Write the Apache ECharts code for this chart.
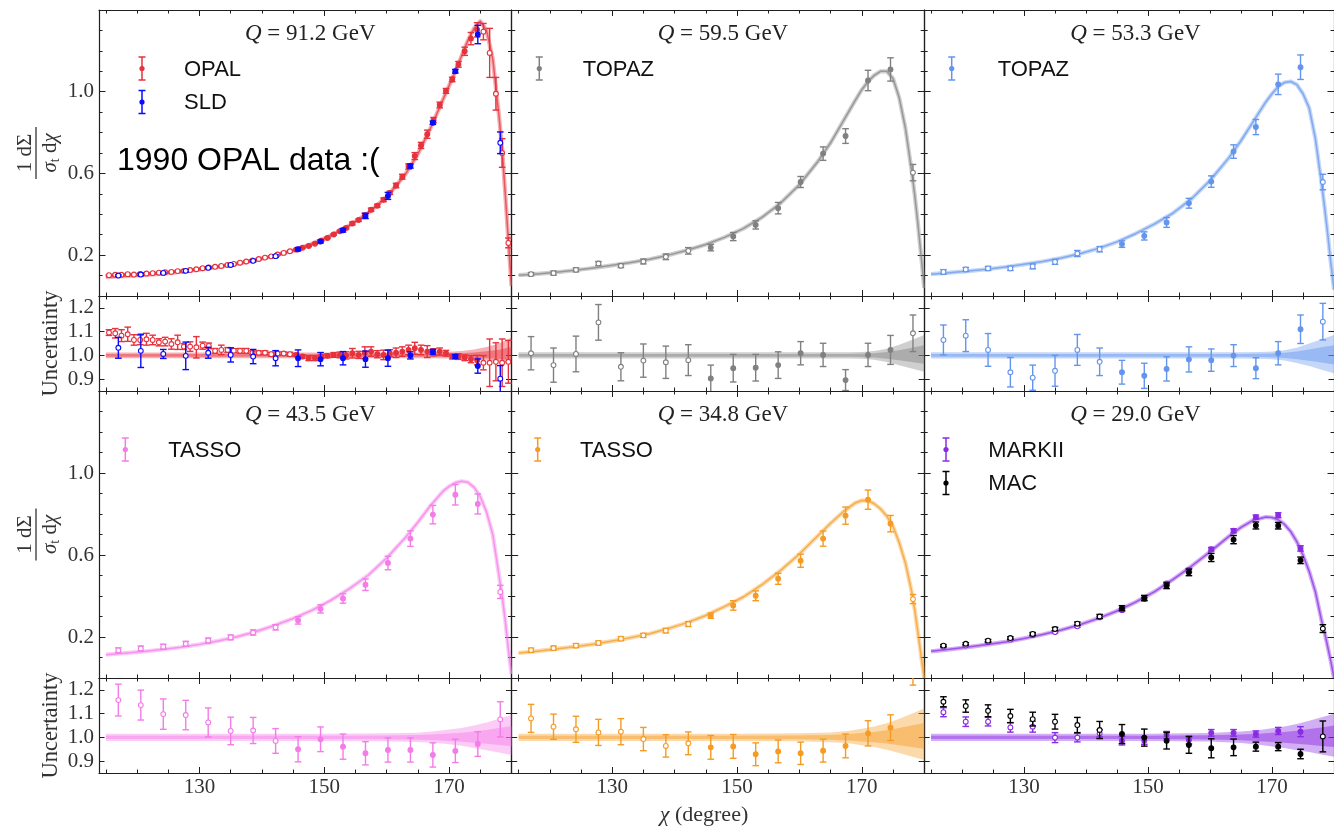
<!DOCTYPE html>
<html><head><meta charset="utf-8">
<script src="https://cdn.jsdelivr.net/npm/echarts@6/dist/echarts.min.js"></script>
<style>html,body{margin:0;padding:0;background:#fff}#c{width:1334px;height:827px}</style>
</head><body><div id="c"></div>
<script>
// ---------------- DATA ----------------
const chi36 = [117,120.6,124.2,127.8,131.4,135,138.6,142.2,145.8,149.4,153,156.6,160.2,163.8,167.4,171,174.6,178.2];
const chiOPAL = [115.5,116.5,117.5,118.5,119.5,120.5,121.5,122.5,123.5,124.5,125.5,126.5,127.5,128.5,129.5,130.5,131.5,132.5,133.5,134.5,135.5,136.5,137.5,138.5,139.5,140.5,141.5,142.5,143.5,144.5,145.5,146.5,147.5,148.5,149.5,150.5,151.5,152.5,153.5,154.5,155.5,156.5,157.5,158.5,159.5,160.5,161.5,162.5,163.5,164.5,165.5,166.5,167.5,168.5,169.5,170.5,171.5,172.5,173.5,174.5,175.5,176.5,177.5,178.5,179.5];
const xTicksMajor = [130,150,170];
const xTicksMinor = [115,120,125,135,140,145,155,160,165,175];
const yTicksMajor = [0.2,0.6,1.0];
const yTicksMinor = [0.1,0.3,0.4,0.5,0.7,0.8,0.9,1.1,1.2,1.3];
const rTicks = [0.9,1.0,1.1,1.2];

// theory curves
const thChi = [115,118,121,124,127,130,133,136,139,142,145,148,151,154,157,160,163,165,167,169,170,171,172,173,174,175,176,177,178,178.5,179,179.5,180];
const th912 = [0.092,0.097,0.102,0.109,0.118,0.129,0.142,0.157,0.175,0.197,0.223,0.255,0.295,0.345,0.405,0.485,0.595,0.695,0.82,0.96,1.03,1.10,1.175,1.25,1.31,1.345,1.30,1.16,0.88,0.72,0.50,0.27,0.05];
const th595 = [0.102,0.108,0.116,0.126,0.137,0.150,0.164,0.180,0.200,0.224,0.252,0.287,0.330,0.385,0.455,0.545,0.660,0.75,0.855,0.96,1.01,1.05,1.08,1.10,1.10,1.065,0.97,0.82,0.61,0.49,0.35,0.20,0.04];
const th533 = [0.107,0.114,0.122,0.131,0.142,0.155,0.169,0.186,0.207,0.233,0.265,0.305,0.352,0.405,0.475,0.565,0.675,0.76,0.855,0.95,0.99,1.025,1.045,1.05,1.035,0.99,0.92,0.77,0.55,0.43,0.30,0.16,0.03];
const th435 = [0.114,0.121,0.129,0.139,0.150,0.164,0.181,0.201,0.226,0.256,0.290,0.330,0.378,0.435,0.50,0.585,0.685,0.76,0.84,0.91,0.935,0.952,0.96,0.955,0.93,0.885,0.81,0.70,0.50,0.40,0.28,0.14,0.02];
const th348 = [0.122,0.131,0.142,0.153,0.165,0.18,0.197,0.216,0.241,0.27,0.305,0.348,0.395,0.455,0.525,0.605,0.695,0.755,0.81,0.855,0.866,0.865,0.85,0.825,0.79,0.74,0.66,0.56,0.42,0.33,0.22,0.11,0.0];
const th290 = [0.130,0.140,0.151,0.163,0.176,0.193,0.212,0.234,0.26,0.291,0.327,0.37,0.42,0.48,0.545,0.615,0.69,0.735,0.77,0.785,0.783,0.772,0.75,0.715,0.665,0.60,0.52,0.42,0.28,0.22,0.15,0.08,0.0];

// theory uncertainty bands (ratio)
const bandChi = [115,150,160,165,168,170,172,174,176,178,180];
const b912Hi = [1.012,1.012,1.012,1.012,1.013,1.015,1.018,1.025,1.035,1.05,1.075];
const b912Lo = [0.988,0.988,0.988,0.988,0.988,0.987,0.986,0.983,0.978,0.972,0.962];
const b912InHi = [1.006,1.006,1.006,1.006,1.006,1.007,1.009,1.012,1.017,1.024,1.035];
const b912InLo = [0.994,0.994,0.994,0.994,0.994,0.993,0.992,0.99,0.988,0.985,0.98];
const b595Hi = [1.013,1.013,1.013,1.013,1.013,1.014,1.018,1.028,1.045,1.065,1.086];
const b595Lo = [0.987,0.987,0.987,0.987,0.987,0.986,0.982,0.972,0.958,0.945,0.931];
const b595InHi = [1.006,1.006,1.006,1.006,1.006,1.007,1.009,1.014,1.022,1.032,1.043];
const b595InLo = [0.994,0.994,0.994,0.994,0.994,0.993,0.991,0.986,0.979,0.972,0.965];
const b533Hi = [1.013,1.013,1.013,1.013,1.014,1.016,1.022,1.032,1.05,1.068,1.086];
const b533Lo = [0.987,0.987,0.987,0.987,0.986,0.984,0.978,0.968,0.955,0.94,0.925];
const b533InHi = [1.006,1.006,1.006,1.006,1.007,1.008,1.011,1.016,1.025,1.034,1.043];
const b533InLo = [0.994,0.994,0.994,0.994,0.993,0.992,0.989,0.984,0.977,0.97,0.962];
const b435Hi = [1.015,1.015,1.017,1.02,1.027,1.033,1.04,1.05,1.063,1.078,1.094];
const b435Lo = [0.985,0.985,0.984,0.981,0.976,0.971,0.965,0.955,0.946,0.936,0.926];
const b435InHi = [1.007,1.007,1.008,1.01,1.013,1.016,1.02,1.025,1.031,1.039,1.047];
const b435InLo = [0.993,0.993,0.992,0.99,0.988,0.985,0.982,0.977,0.973,0.968,0.963];
const b348Hi = [1.015,1.015,1.017,1.021,1.028,1.036,1.046,1.06,1.078,1.099,1.122];
const b348Lo = [0.985,0.985,0.984,0.98,0.975,0.967,0.959,0.948,0.934,0.92,0.905];
const b348InHi = [1.007,1.007,1.008,1.01,1.014,1.018,1.023,1.03,1.039,1.05,1.061];
const b348InLo = [0.993,0.993,0.992,0.99,0.987,0.983,0.979,0.974,0.967,0.96,0.952];
const b290Hi = [1.015,1.015,1.018,1.025,1.031,1.038,1.046,1.056,1.07,1.085,1.10];
const b290Lo = [0.985,0.985,0.983,0.976,0.969,0.962,0.955,0.946,0.938,0.928,0.918];
const b290InHi = [1.007,1.007,1.009,1.012,1.015,1.019,1.023,1.028,1.035,1.042,1.05];
const b290InLo = [0.993,0.993,0.991,0.988,0.984,0.981,0.977,0.973,0.969,0.964,0.959];

// OPAL (Q = 91.2 GeV)
const opalY = [0.102,0.104,0.104,0.107,0.105,0.108,0.110,0.112,0.114,0.116,0.118,0.122,0.123,0.127,0.131,0.136,0.140,0.143,0.147,0.152,0.157,0.163,0.169,0.174,0.181,0.188,0.194,0.203,0.211,0.219,0.227,0.236,0.245,0.256,0.271,0.284,0.301,0.317,0.333,0.355,0.372,0.395,0.422,0.442,0.471,0.505,0.541,0.584,0.634,0.685,0.737,0.792,0.861,0.935,1.004,1.060,1.134,1.198,1.260,1.303,1.294,1.19,0.99,0.70,0.26];
const opalYe = [0.003,0.003,0.003,0.003,0.003,0.003,0.003,0.003,0.003,0.003,0.003,0.003,0.003,0.003,0.003,0.003,0.003,0.003,0.003,0.003,0.003,0.003,0.003,0.003,0.003,0.003,0.003,0.003,0.003,0.003,0.003,0.003,0.003,0.003,0.003,0.003,0.004,0.004,0.005,0.007,0.006,0.01,0.008,0.007,0.009,0.008,0.011,0.012,0.013,0.017,0.015,0.02,0.013,0.014,0.012,0.011,0.014,0.02,0.03,0.035,0.04,0.12,0.08,0.07,0.024];
const opalR = [1.096,1.093,1.083,1.089,1.065,1.065,1.068,1.065,1.055,1.058,1.048,1.055,1.037,1.037,1.034,1.041,1.040,1.019,1.023,1.023,1.020,1.019,1.019,1.011,1.011,1.011,1.005,1.008,1.008,1.005,1.002,0.995,0.988,0.988,0.995,0.998,1.002,1.002,1.0,1.009,1.002,1.011,1.016,1.005,1.002,1.009,1.011,1.016,1.023,1.03,1.023,1.016,1.013,1.016,1.009,0.995,0.995,0.99,0.984,0.98,0.969,0.969,0.973,0.969,0.973];
const opalRe = [0.012,0.02,0.025,0.03,0.022,0.02,0.025,0.02,0.015,0.018,0.022,0.03,0.012,0.02,0.045,0.015,0.012,0.01,0.02,0.01,0.008,0.01,0.01,0.008,0.008,0.008,0.008,0.008,0.006,0.008,0.006,0.008,0.01,0.01,0.008,0.008,0.01,0.012,0.015,0.02,0.015,0.025,0.02,0.015,0.02,0.015,0.02,0.02,0.02,0.025,0.02,0.025,0.015,0.015,0.012,0.01,0.012,0.012,0.015,0.02,0.03,0.1,0.08,0.1,0.09];
// SLD
const sldY = [0.100,0.105,0.113,0.123,0.138,0.152,0.172,0.195,0.229,0.267,0.322,0.392,0.49,0.636,0.848,1.10,1.28,0.75];
const sldYe = [0.004,0.006,0.003,0.006,0.003,0.005,0.005,0.006,0.008,0.007,0.009,0.013,0.017,0.01,0.008,0.009,0.045,0.053];
const sldR = [1.032,1.019,1.006,0.998,1.011,1.002,0.995,0.988,0.988,0.984,0.988,0.984,0.988,1.0,1.015,0.995,0.955,0.902];
const sldRe = [0.044,0.07,0.019,0.058,0.023,0.03,0.03,0.032,0.035,0.028,0.028,0.034,0.034,0.015,0.01,0.008,0.03,0.055];
// TOPAZ 59.5
const tpz59Y = [0.107,0.112,0.128,0.159,0.148,0.169,0.192,0.221,0.237,0.291,0.348,0.43,0.558,0.697,0.783,1.055,1.109,0.604];
const tpz59Ye = [0.008,0.01,0.01,0.01,0.009,0.012,0.014,0.016,0.016,0.02,0.02,0.028,0.027,0.033,0.036,0.05,0.057,0.04];
const tpz59R = [1.009,0.959,1.006,1.139,0.952,0.978,0.971,0.98,0.903,0.946,0.948,0.959,1.009,1.002,0.896,1.002,1.023,1.093];
const tpz59Re = [0.07,0.072,0.075,0.075,0.059,0.07,0.068,0.065,0.056,0.058,0.056,0.056,0.049,0.049,0.044,0.049,0.061,0.077];
// TOPAZ 53.3
const tpz53Y = [0.118,0.130,0.135,0.135,0.145,0.167,0.208,0.229,0.254,0.294,0.36,0.454,0.56,0.707,0.827,1.036,1.12,0.558];
const tpz53Ye = [0.011,0.01,0.01,0.01,0.012,0.012,0.015,0.013,0.016,0.02,0.024,0.024,0.028,0.033,0.037,0.05,0.06,0.038];
const tpz53R = [1.065,1.083,1.023,0.929,0.906,0.935,1.023,0.973,0.929,0.914,0.943,0.983,0.98,0.999,0.946,1.009,1.11,1.142];
const tpz53Re = [0.063,0.067,0.069,0.062,0.053,0.065,0.065,0.058,0.05,0.053,0.051,0.053,0.047,0.046,0.044,0.049,0.06,0.077];
// TASSO 43.5
const tas43Y = [0.135,0.144,0.153,0.167,0.183,0.198,0.222,0.247,0.281,0.337,0.388,0.455,0.561,0.68,0.797,0.894,0.849,0.42];
const tas43Ye = [0.012,0.012,0.012,0.012,0.012,0.012,0.013,0.013,0.018,0.02,0.023,0.028,0.033,0.038,0.045,0.05,0.049,0.032];
const tas43R = [1.157,1.136,1.098,1.094,1.063,1.027,1.029,0.985,0.95,0.992,0.961,0.933,0.947,0.947,0.926,0.943,0.972,1.076];
const tas43Re = [0.067,0.063,0.064,0.062,0.061,0.058,0.055,0.052,0.053,0.052,0.053,0.049,0.051,0.051,0.051,0.049,0.052,0.074];
// TASSO 34.8
const tas34Y = [0.136,0.146,0.158,0.171,0.192,0.208,0.231,0.263,0.304,0.354,0.401,0.484,0.572,0.68,0.792,0.87,0.753,0.385];
const tas34Ye = [0.01,0.01,0.01,0.01,0.01,0.01,0.011,0.012,0.013,0.023,0.024,0.027,0.032,0.037,0.042,0.047,0.04,0.022];
const tas34R = [1.08,1.045,1.034,1.021,1.024,0.993,0.964,0.975,0.958,0.962,0.929,0.941,0.933,0.944,0.964,1.017,1.041,1.28];
const tas34Re = [0.059,0.053,0.055,0.055,0.055,0.049,0.047,0.048,0.05,0.05,0.048,0.048,0.047,0.048,0.05,0.053,0.054,0.06];
// MARKII 29.0
const mk2Y = [0.152,0.158,0.175,0.187,0.209,0.224,0.252,0.296,0.331,0.385,0.461,0.526,0.628,0.718,0.785,0.794,0.632];
const mk2Ye = [0.003,0.003,0.003,0.004,0.005,0.005,0.005,0.005,0.006,0.006,0.007,0.009,0.009,0.01,0.01,0.012,0.013];
const mk2R = [1.106,1.066,1.066,1.042,1.045,0.999,0.999,1.017,0.986,0.986,1.01,0.989,1.019,1.019,1.014,1.027,1.024];
const mk2Re = [0.019,0.02,0.018,0.02,0.023,0.021,0.018,0.015,0.018,0.015,0.015,0.017,0.014,0.014,0.013,0.015,0.021];
// MAC 29.0
const macY = [0.158,0.167,0.182,0.195,0.215,0.239,0.265,0.30,0.341,0.39,0.45,0.515,0.588,0.675,0.744,0.743,0.574,0.241];
const macYe = [0.005,0.005,0.006,0.006,0.007,0.008,0.008,0.01,0.012,0.013,0.014,0.016,0.02,0.02,0.017,0.016,0.016,0.019];
const macR = [1.15,1.132,1.112,1.09,1.077,1.066,1.052,1.031,1.014,0.999,0.986,0.968,0.954,0.958,0.961,0.961,0.93,1.004];
const macRe = [0.021,0.026,0.025,0.028,0.029,0.031,0.032,0.036,0.04,0.036,0.035,0.035,0.04,0.035,0.019,0.017,0.02,0.065];

// ---------------- STYLE / LAYOUT ----------------
const C = {red:'#e6323c', blue:'#0a0aff', grey:'#808080', cblue:'#6495ed', pink:'#f47be8', orange:'#f59b23', purple:'#8a2be2', black:'#000000'};
const panels = [
  {q:'91.2', color:C.red, th:th912, bHi:b912Hi, bLo:b912Lo, iHi:b912InHi, iLo:b912InLo,
   sets:[{name:'OPAL', color:C.red, x:chiOPAL, y:opalY, ye:opalYe, r:opalR, re:opalRe},
         {name:'SLD', color:C.blue, x:chi36, y:sldY, ye:sldYe, r:sldR, re:sldRe}]},
  {q:'59.5', color:C.grey, th:th595, bHi:b595Hi, bLo:b595Lo, iHi:b595InHi, iLo:b595InLo,
   sets:[{name:'TOPAZ', color:C.grey, x:chi36, y:tpz59Y, ye:tpz59Ye, r:tpz59R, re:tpz59Re}]},
  {q:'53.3', color:C.cblue, th:th533, bHi:b533Hi, bLo:b533Lo, iHi:b533InHi, iLo:b533InLo,
   sets:[{name:'TOPAZ', color:C.cblue, x:chi36, y:tpz53Y, ye:tpz53Ye, r:tpz53R, re:tpz53Re}]},
  {q:'43.5', color:C.pink, th:th435, bHi:b435Hi, bLo:b435Lo, iHi:b435InHi, iLo:b435InLo,
   sets:[{name:'TASSO', color:C.pink, x:chi36, y:tas43Y, ye:tas43Ye, r:tas43R, re:tas43Re}]},
  {q:'34.8', color:C.orange, th:th348, bHi:b348Hi, bLo:b348Lo, iHi:b348InHi, iLo:b348InLo,
   sets:[{name:'TASSO', color:C.orange, x:chi36, y:tas34Y, ye:tas34Ye, r:tas34R, re:tas34Re}]},
  {q:'29.0', color:C.purple, th:th290, bHi:b290Hi, bLo:b290Lo, iHi:b290InHi, iLo:b290InLo,
   sets:[{name:'MARKII', color:C.purple, x:chi36.slice(0, mk2Y.length), y:mk2Y, ye:mk2Ye, r:mk2R, re:mk2Re},
         {name:'MAC', color:C.black, x:chi36, y:macY, ye:macYe, r:macR, re:macRe}]}
];
const X_MIN = 113.9, X_MAX = 180.0;
const PW = 412.5;
const colLeft = [99, 511.7, 924.2];
const rowMain = [{top:10, h:286}, {top:391, h:287}];
const rowRatio = [{top:296, h:95}, {top:678, h:95}];
const legMX = [43, 27.6, 27.5, 26.3, 26, 21.8];
const legTX = [85, 71, 73.5, 69.3, 68.3, 64.1];
const AX = '#1f1f1f', LBL = '#333';
const SERIF = '"Liberation Serif", "DejaVu Serif", serif';
const SANS = '"Liberation Sans", Arial, sans-serif';

function rgba(hex, a) {
  const n = parseInt(hex.slice(1), 16);
  return 'rgba(' + ((n >> 16) & 255) + ',' + ((n >> 8) & 255) + ',' + (n & 255) + ',' + a + ')';
}

const grids = [], xAxes = [], yAxes = [], series = [], graphics = [];

function addX(gi, pos, vals, len, line, labels) {
  xAxes.push({
    type:'value', gridIndex:gi, min:X_MIN, max:X_MAX, position:pos,
    axisLine:{show:line, onZero:false, lineStyle:{color:AX, width:1.2}},
    axisTick:{show:true, inside:true, length:len, customValues:vals, lineStyle:{color:AX, width:1}},
    axisLabel: labels ? {show:true, customValues:xTicksMajor, margin:4, color:LBL, fontFamily:SERIF, fontSize:21,
      formatter: v => String(Math.round(v))} : {show:false},
    splitLine:{show:false}
  });
  return xAxes.length - 1;
}
function addY(gi, pos, min, max, vals, len, line, labels) {
  yAxes.push({
    type:'value', gridIndex:gi, min:min, max:max, position:pos,
    axisLine:{show:line, onZero:false, lineStyle:{color:AX, width:1.2}},
    axisTick:{show:true, inside:true, length:len, customValues:vals, lineStyle:{color:AX, width:1}},
    axisLabel: labels ? {show:true, customValues:vals, margin:5, color:LBL, fontFamily:SERIF, fontSize:21,
      formatter: v => v.toFixed(1)} : {show:false},
    splitLine:{show:false}
  });
  return yAxes.length - 1;
}

function dataRender(color) {
  return function (params, api) {
    const x = api.value(0), y = api.value(1), e = api.value(2);
    const p = api.coord([x, y]);
    const t = api.coord([x, y + e]);
    const b = api.coord([x, y - e]);
    const filled = x > 145 && x < 175;
    const cw = 3.3, lw = 1.4;
    return {type:'group', children:[
      {type:'line', shape:{x1:p[0], y1:t[1], x2:p[0], y2:b[1]}, style:{stroke:color, lineWidth:lw}},
      {type:'line', shape:{x1:p[0]-cw, y1:t[1], x2:p[0]+cw, y2:t[1]}, style:{stroke:color, lineWidth:lw}},
      {type:'line', shape:{x1:p[0]-cw, y1:b[1], x2:p[0]+cw, y2:b[1]}, style:{stroke:color, lineWidth:lw}},
      {type:'circle', shape:{cx:p[0], cy:p[1], r:2.4}, style:{fill: filled ? color : '#ffffff', stroke:color, lineWidth:1.1}}
    ]};
  };
}
function curveRender(xs, ys, color) {
  return function (params, api) {
    const pts = xs.map((x, i) => api.coord([x, ys[i]]));
    return {type:'group', children:[
      {type:'polyline', shape:{points:pts}, style:{stroke:rgba(color, 0.38), lineWidth:4.2, fill:null, lineJoin:'round'}},
      {type:'polyline', shape:{points:pts}, style:{stroke:rgba(color, 0.7), lineWidth:1.5, fill:null, lineJoin:'round'}}
    ]};
  };
}
function bandRender(xs, hi, lo, ihi, ilo, color) {
  return function (params, api) {
    const outer = xs.map((x, i) => api.coord([x, hi[i]])).concat(xs.map((x, i) => api.coord([x, lo[i]])).reverse());
    const inner = xs.map((x, i) => api.coord([x, ihi[i]])).concat(xs.map((x, i) => api.coord([x, ilo[i]])).reverse());
    return {type:'group', children:[
      {type:'polygon', shape:{points:outer}, style:{fill:rgba(color, 0.38)}},
      {type:'polygon', shape:{points:inner}, style:{fill:rgba(color, 0.45)}}
    ]};
  };
}

panels.forEach((P, p) => {
  const row = Math.floor(p / 3), col = p % 3;
  const left = colLeft[col];
  // main grid
  grids.push({left:left, top:rowMain[row].top, width:PW, height:rowMain[row].h});
  const gm = grids.length - 1;
  const xm = addX(gm, 'bottom', xTicksMajor, 6, true, false);
  addX(gm, 'bottom', xTicksMinor, 3.5, false, false);
  addX(gm, 'top', xTicksMajor, 6, true, false);
  addX(gm, 'top', xTicksMinor, 3.5, false, false);
  const ym = addY(gm, 'left', 0, 1.4, yTicksMajor, 6.5, true, col === 0);
  addY(gm, 'left', 0, 1.4, yTicksMinor, 3.5, false, false);
  addY(gm, 'right', 0, 1.4, yTicksMajor, 6.5, true, false);
  addY(gm, 'right', 0, 1.4, yTicksMinor, 3.5, false, false);
  // ratio grid
  grids.push({left:left, top:rowRatio[row].top, width:PW, height:rowRatio[row].h});
  const gr = grids.length - 1;
  const xr = addX(gr, 'bottom', xTicksMajor, 6, true, row === 1);
  addX(gr, 'bottom', xTicksMinor, 3.5, false, false);
  addX(gr, 'top', xTicksMajor, 6, true, false);
  addX(gr, 'top', xTicksMinor, 3.5, false, false);
  const yr = addY(gr, 'left', 0.85, 1.25, rTicks, 5.5, true, col === 0);
  addY(gr, 'right', 0.85, 1.25, rTicks, 5.5, true, false);

  // theory
  series.push({type:'custom', xAxisIndex:xm, yAxisIndex:ym, clip:true, silent:true, z:2,
    data:[[thChi[0], P.th[0]]], renderItem: curveRender(thChi, P.th, P.color)});
  series.push({type:'custom', xAxisIndex:xr, yAxisIndex:yr, clip:true, silent:true, z:2,
    data:[[bandChi[0], P.bHi[0]]], renderItem: bandRender(bandChi, P.bHi, P.bLo, P.iHi, P.iLo, P.color)});
  // data
  P.sets.forEach(S => {
    series.push({type:'custom', name:S.name, xAxisIndex:xm, yAxisIndex:ym, clip:true, silent:true, z:3,
      data:S.x.map((x, i) => [x, S.y[i], S.ye[i]]), renderItem: dataRender(S.color)});
    series.push({type:'custom', name:S.name, xAxisIndex:xr, yAxisIndex:yr, clip:true, silent:true, z:3,
      data:S.x.map((x, i) => [x, S.r[i], S.re[i]]), renderItem: dataRender(S.color)});
  });

  // title
  graphics.push({type:'text', x:left + PW / 2 + 5, y:rowMain[row].top + 24, z:10,
    style:{text:'{i|Q} = ' + P.q + ' GeV', font:'23px ' + SERIF, fill:'#222', align:'center', verticalAlign:'middle',
      textAlign:'center', textVerticalAlign:'middle',
      rich:{i:{font:'italic 23px ' + SERIF, fill:'#222'}}}});
  // legend
  P.sets.forEach((S, k) => {
    const my = rowMain[row].top + (k === 0 ? 58.5 : 92);
    const mx = left + legMX[p];
    const h = 11.5, cw = 3.5;
    graphics.push({type:'line', shape:{x1:mx, y1:my - h, x2:mx, y2:my + h}, style:{stroke:S.color, lineWidth:1.5}, z:10});
    graphics.push({type:'line', shape:{x1:mx - cw, y1:my - h, x2:mx + cw, y2:my - h}, style:{stroke:S.color, lineWidth:1.5}, z:10});
    graphics.push({type:'line', shape:{x1:mx - cw, y1:my + h, x2:mx + cw, y2:my + h}, style:{stroke:S.color, lineWidth:1.5}, z:10});
    graphics.push({type:'circle', shape:{cx:mx, cy:my, r:2.6}, style:{fill:S.color}, z:10});
    graphics.push({type:'text', x:left + legTX[p], y:my + 1, z:10,
      style:{text:S.name, font:'22px ' + SANS, fill:'#111', align:'left', verticalAlign:'middle', textAlign:'left', textVerticalAlign:'middle'}});
  });
});

// annotation
graphics.push({type:'text', x:117, y:161, z:10,
  style:{text:'1990 OPAL data :(', font:'32px ' + SANS, fill:'#000', align:'left', verticalAlign:'middle', textAlign:'left', textVerticalAlign:'middle'}});

// y axis titles
[0, 1].forEach(row => {
  const cy = rowMain[row].top + rowMain[row].h / 2;
  graphics.push({type:'group', x:36, y:cy, rotation:Math.PI / 2, z:10, children:[
    {type:'text', x:0, y:-11, style:{text:'1 d\u03A3', font:'21px ' + SERIF, fill:LBL, align:'center', verticalAlign:'middle', textAlign:'center', textVerticalAlign:'middle'}},
    {type:'line', shape:{x1:-26, y1:0, x2:26, y2:0}, style:{stroke:LBL, lineWidth:1.3}},
    {type:'text', x:0, y:14, style:{text:'{i|\u03C3}{s|t} d{i|\u03C7}', font:'21px ' + SERIF, fill:LBL, align:'center', verticalAlign:'middle', textAlign:'center', textVerticalAlign:'middle',
      rich:{i:{font:'italic 21px ' + SERIF, fill:LBL, lineHeight:24}, s:{font:'14px ' + SERIF, fill:LBL, verticalAlign:'bottom', lineHeight:24}}}}
  ]});
  const ry = rowRatio[row].top + rowRatio[row].h / 2;
  graphics.push({type:'text', x:51, y:ry, rotation:Math.PI / 2, z:10,
    style:{text:'Uncertainty', font:'22.5px ' + SERIF, fill:LBL, align:'center', verticalAlign:'middle', textAlign:'center', textVerticalAlign:'middle'}});
});
// x axis title
graphics.push({type:'text', x:704, y:815, z:10,
  style:{text:'{i|\u03C7} (degree)', font:'22px ' + SERIF, fill:LBL, align:'center', verticalAlign:'middle', textAlign:'center', textVerticalAlign:'middle',
    rich:{i:{font:'italic 22px ' + SERIF, fill:LBL}}}});

const chart = echarts.init(document.getElementById('c'), null, {renderer:'canvas'});
chart.setOption({
  animation:false,
  backgroundColor:'#ffffff',
  grid:grids, xAxis:xAxes, yAxis:yAxes, series:series, graphic:{elements:graphics}
});
</script></body></html>
